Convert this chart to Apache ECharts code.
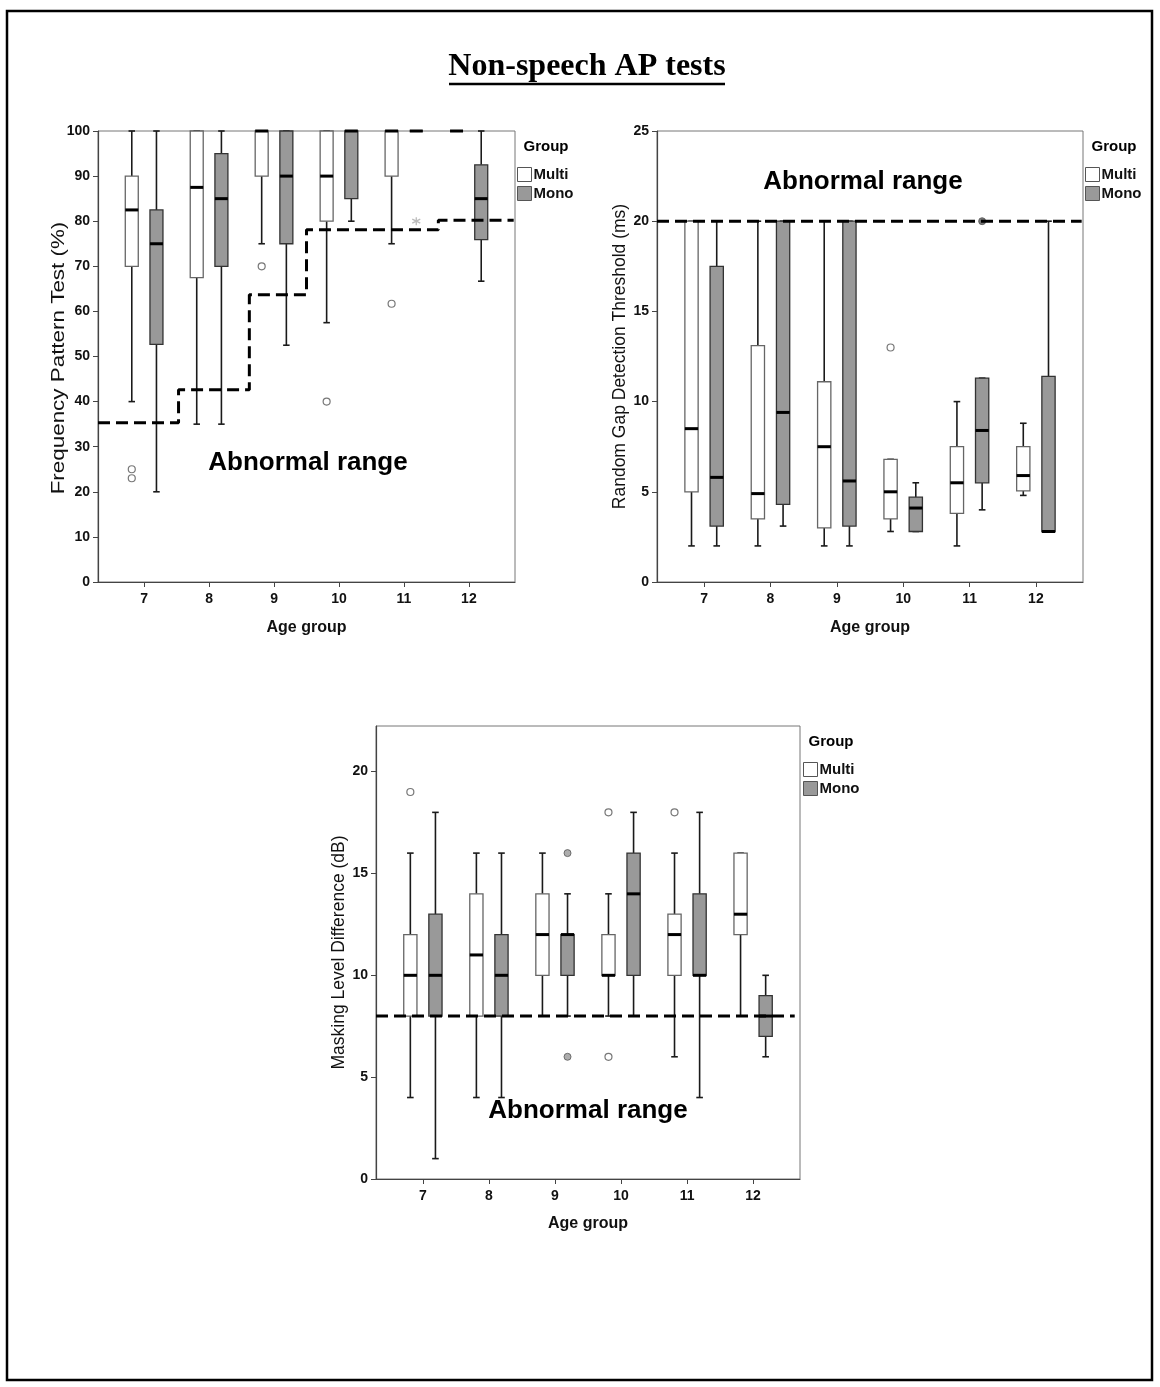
<!DOCTYPE html>
<html><head><meta charset="utf-8">
<script src="https://cdn.jsdelivr.net/npm/echarts@6/dist/echarts.min.js"></script>
<style>html,body{margin:0;padding:0;background:#fff}#c{width:1160px;height:1387px}</style>
</head><body><div id="c"></div><script>
// ---------- data ----------
const ageGroups = [7, 8, 9, 10, 11, 12];
const ageTickLabels = ['7', '8', '9', '10', '11', '12'];
const groupNames = ['Multi', 'Mono'];

// each row: [lower whisker, Q1, median, Q3, upper whisker]
const fptMulti = [[40,70,82.5,90,100],[35,67.5,87.5,100,100],[75,90,100,100,100],[57.5,80,90,100,100],[75,90,100,100,100],[100,100,100,100,100]];
const fptMono  = [[20,52.7,75,82.5,100],[35,70,85,95,100],[52.5,75,90,100,100],[80,85,100,100,100],[100,100,100,100,100],[66.7,75.9,85,92.5,100]];
const fptMultiOutliers = [[7,25],[7,23],[9,70],[10,40],[11,61.7]];
const fptMonoExtremes = [[11,80]];
const fptCutoffX = [6.29,7.53,7.53,8.62,8.62,9.5,9.5,11.53,11.53,12.69];
const fptCutoffY = [35.3,35.3,42.6,42.6,63.7,63.7,78.1,78.1,80.2,80.2];

const rgdtMulti = [[2,5,8.5,20,20],[2,3.5,4.9,13.1,20],[2,3,7.5,11.1,20],[2.8,3.5,5,6.8,6.8],[2,3.8,5.5,7.5,10],[4.8,5.05,5.9,7.5,8.8]];
const rgdtMono  = [[2,3.1,5.8,17.5,20],[3.1,4.3,9.4,20,20],[2,3.1,5.6,20,20],[2.8,2.8,4.1,4.7,5.5],[4,5.5,8.4,11.3,11.3],[2.8,2.8,2.8,11.4,20]];
const rgdtMultiOutliers = [[10,13]];
const rgdtMonoOutliers = [[11,20]];
const rgdtCutoffX = [6.29,12.69];
const rgdtCutoffY = [20,20];

const mldMulti = [[4,8,10,12,16],[4,8,11,14,16],[8,10,12,14,16],[8,10,10,12,14],[6,10,12,13,16],[8,12,13,16,16]];
const mldMono  = [[1,8,10,13,18],[4,8,10,12,16],[8,10,12,12,14],[8,10,14,16,18],[4,10,10,14,18],[6,7,8,9,10]];
const mldMultiOutliers = [[7,19],[10,18],[10,6],[11,18]];
const mldMonoOutliers = [[9,16],[9,6]];
const mldCutoffX = [6.29,12.63];
const mldCutoffY = [8,8];
const mldYTicks = [0,5,10,15,20];

// ---------- styling ----------
const SANS = '"Liberation Sans", Arial, Helvetica, sans-serif';
const SERIF = '"Liberation Serif", "Times New Roman", serif';
const OFFSET = 0.19, BOXW = 0.2;
const STY = {
  Multi: {fill:'#ffffff', stroke:'#666666'},
  Mono:  {fill:'#999999', stroke:'#333333'}
};

function boxRender(group) {
  const s = STY[group];
  return function (params, api) {
    const x = api.value(0);
    const pLo = api.coord([x, api.value(1)]);
    const pQ1 = api.coord([x, api.value(2)]);
    const pMd = api.coord([x, api.value(3)]);
    const pQ3 = api.coord([x, api.value(4)]);
    const pHi = api.coord([x, api.value(5)]);
    const w = api.size([BOXW, 0])[0];
    const cx = pMd[0];
    const cap = w * 0.5;
    const wl = {stroke:'#1a1a1a', lineWidth:1.6};
    return {type:'group', children:[
      {type:'line', shape:{x1:cx,y1:pQ1[1],x2:cx,y2:pLo[1]}, style:wl},
      {type:'line', shape:{x1:cx,y1:pQ3[1],x2:cx,y2:pHi[1]}, style:wl},
      {type:'line', shape:{x1:cx-cap/2,y1:pLo[1],x2:cx+cap/2,y2:pLo[1]}, style:wl},
      {type:'line', shape:{x1:cx-cap/2,y1:pHi[1],x2:cx+cap/2,y2:pHi[1]}, style:wl},
      {type:'rect', shape:{x:cx-w/2,y:pQ3[1],width:w,height:pQ1[1]-pQ3[1]}, style:{fill:s.fill, stroke:s.stroke, lineWidth:1.3}},
      {type:'line', shape:{x1:cx-w/2,y1:pMd[1],x2:cx+w/2,y2:pMd[1]}, style:{stroke:'#000', lineWidth:3}}
    ]};
  };
}

function boxSeries(rows, group, gi) {
  const off = group === 'Multi' ? -OFFSET : OFFSET;
  return {
    type:'custom', name:group, xAxisIndex:gi, yAxisIndex:gi, z:2, silent:true,
    itemStyle:{color:STY[group].fill, borderColor:STY[group].stroke},
    renderItem: boxRender(group),
    encode:{x:0, y:[1,2,3,4,5]},
    data: rows.map((r, i) => [ageGroups[i] + off].concat(r))
  };
}

function outlierSeries(pts, group, gi, filled, star) {
  const off = group === 'Multi' ? -OFFSET : OFFSET;
  return {
    type:'scatter', name:group + ' outliers', xAxisIndex:gi, yAxisIndex:gi, z:3, silent:true,
    symbol: star ? 'path://M0,-5L0,5M-4.3,-2.5L4.3,2.5M-4.3,2.5L4.3,-2.5' : 'circle',
    symbolSize: star ? 8 : 7,
    itemStyle: star ? {color:'none', borderColor:'#aaaaaa', borderWidth:1.3}
      : (filled ? {color: gi === 1 ? '#555555' : '#999999', borderColor:'#555555', borderWidth:1}
                : {color:'#ffffff', borderColor:'#555555', borderWidth:1.2}),
    data: pts.map(p => [p[0] + off, p[1]])
  };
}

function cutoffSeries(xs, ys, gi) {
  return {
    type:'line', name:'cutoff', xAxisIndex:gi, yAxisIndex:gi, z:5, silent:true,
    showSymbol:false, symbol:'none', animation:false,
    lineStyle:{color:'#000', width:3, type:[12,6]},
    data: xs.map((x, i) => [x, ys[i]])
  };
}

function xAxisFor(gi, nameGap) {
  return {
    type:'value', gridIndex:gi, min:6.29, max:12.71,
    name:'Age group', nameLocation:'middle', nameGap:nameGap,
    nameTextStyle:{fontFamily:SANS, fontWeight:'bold', fontSize:16, color:'#111'},
    axisLine:{show:true, onZero:false, lineStyle:{color:'#444', width:1.2}},
    axisTick:{show:true, customValues:ageGroups, length:5, lineStyle:{color:'#444'}},
    axisLabel:{customValues:ageGroups, formatter:v => ageTickLabels[ageGroups.indexOf(v)],
      margin:10, fontFamily:SANS, fontWeight:'bold', fontSize:14, color:'#111'},
    splitLine:{show:false}
  };
}

function yAxisFor(gi, name, max, interval, nameGap, custom) {
  const ax = {
    type:'value', gridIndex:gi, min:0, max:max, interval:interval,
    name:name, nameLocation:'middle', nameGap:nameGap, nameRotate:90,
    nameTextStyle:{fontFamily:SANS, fontSize:17.5, color:'#111'},
    axisLine:{show:true, lineStyle:{color:'#444', width:1.2}},
    axisTick:{show:true, length:5, lineStyle:{color:'#444'}},
    axisLabel:{margin:8, fontFamily:SANS, fontWeight:'bold', fontSize:14, color:'#111'},
    splitLine:{show:false}
  };
  if (custom) { ax.axisTick.customValues = custom; ax.axisLabel.customValues = custom; }
  return ax;
}

function legendFor(left, top) {
  return {
    left:left, top:top, orient:'vertical', padding:0, itemGap:4, itemWidth:14, itemHeight:14,
    selectedMode:false,
    textStyle:{fontFamily:SANS, fontWeight:'bold', fontSize:15, color:'#111', padding:[0,0,0,-3]},
    data:[
      {name:groupNames[0], icon:'rect', itemStyle:{color:STY.Multi.fill, borderColor:'#555', borderWidth:1}},
      {name:groupNames[1], icon:'rect', itemStyle:{color:STY.Mono.fill, borderColor:'#555', borderWidth:1}}
    ]
  };
}

function txt(x, y, text, size, extra) {
  return Object.assign({type:'text', x:x, y:y, silent:true,
    style:{text:text, fontFamily:SANS, fontWeight:'bold', fontSize:size, fill:'#000', align:'center', verticalAlign:'middle'}}, extra || {});
}

const option = {
  backgroundColor:'#fff',
  animation:false,
  grid:[
    {left:98, top:131, width:417, height:451, show:true, borderColor:'#777', borderWidth:1},
    {left:657, top:131, width:426, height:451, show:true, borderColor:'#777', borderWidth:1},
    {left:376, top:726, width:424, height:453, show:true, borderColor:'#777', borderWidth:1}
  ],
  xAxis:[xAxisFor(0, 38), xAxisFor(1, 38), xAxisFor(2, 37)],
  yAxis:[
    yAxisFor(0, '', 100, 10, 31),
    yAxisFor(1, 'Random Gap Detection Threshold (ms)', 25, 5, 19),
    yAxisFor(2, 'Masking Level Difference (dB)', 22.24, 5, 23, mldYTicks)
  ],
  legend:[legendFor(517, 167), legendFor(1085, 167), legendFor(803, 762)],
  series:[
    boxSeries(fptMulti, 'Multi', 0), boxSeries(fptMono, 'Mono', 0),
    outlierSeries(fptMultiOutliers, 'Multi', 0, false, false),
    outlierSeries(fptMonoExtremes, 'Mono', 0, false, true),
    cutoffSeries(fptCutoffX, fptCutoffY, 0),

    boxSeries(rgdtMulti, 'Multi', 1), boxSeries(rgdtMono, 'Mono', 1),
    outlierSeries(rgdtMultiOutliers, 'Multi', 1, false, false),
    outlierSeries(rgdtMonoOutliers, 'Mono', 1, true, false),
    cutoffSeries(rgdtCutoffX, rgdtCutoffY, 1),

    boxSeries(mldMulti, 'Multi', 2), boxSeries(mldMono, 'Mono', 2),
    outlierSeries(mldMultiOutliers, 'Multi', 2, false, false),
    outlierSeries(mldMonoOutliers, 'Mono', 2, true, false),
    cutoffSeries(mldCutoffX, mldCutoffY, 2)
  ],
  graphic:[
    {type:'rect', silent:true, shape:{x:7, y:11, width:1145, height:1369},
      style:{fill:'none', stroke:'#000', lineWidth:2.5}},
    {type:'text', silent:true, x:587, y:67,
      style:{text:'Non-speech AP tests', fontFamily:SERIF, fontWeight:'bold', fontSize:32, fill:'#000', align:'center', verticalAlign:'middle'}},
    {type:'line', silent:true, shape:{x1:449, y1:84, x2:725, y2:84}, style:{stroke:'#000', lineWidth:2.5}},
    // y-axis title of the first panel (stretched along its length as in the source)
    {type:'text', silent:true, x:59, y:358, rotation:Math.PI/2, scaleX:1.28, scaleY:1,
      style:{text:'Frequency Pattern Test (%)', fontFamily:SANS, fontSize:17.5, fill:'#111', align:'center', verticalAlign:'middle'}},
    txt(308, 463, 'Abnormal range', 26),
    txt(863, 182, 'Abnormal range', 26),
    txt(588, 1111, 'Abnormal range', 26),
    txt(546, 147, 'Group', 15),
    txt(1114, 147, 'Group', 15),
    txt(831, 742, 'Group', 15)
  ]
};

const chart = echarts.init(document.getElementById('c'), null, {renderer:'canvas'});
chart.setOption(option);
</script></body></html>
